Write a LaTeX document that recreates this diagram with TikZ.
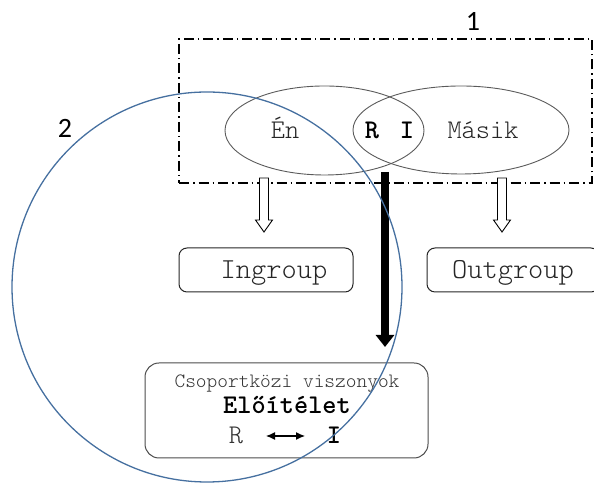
\documentclass[tikz,border=0pt]{standalone}
\usepackage{fontspec}
\newfontfamily\lab{Carlito}
\newfontfamily\mono{lmmonolt10-regular.otf}[BoldFont=lmmonolt10-bold.otf]
\usetikzlibrary{shapes.geometric,arrows.meta}
\definecolor{circblue}{RGB}{70,112,160}
\definecolor{ellgray}{RGB}{90,90,90}
\tikzset{
  x=1pt,y=1pt,
  ell/.style={draw=ellgray,line width=0.9pt,ellipse,inner sep=0pt},
  grpbox/.style={draw=black!85,line width=1pt,rounded corners=8pt,inner sep=0pt},
  monotext/.style={font=\mono\fontsize{27}{30}\selectfont,inner sep=0pt,anchor=base,text=black!85},
  boldtext/.style={monotext,font=\mono\bfseries\fontsize{27}{30}\selectfont,text=black},
  numlab/.style={font=\lab\fontsize{28}{32}\selectfont,inner sep=0pt},
  hollow/.style={draw=black,line width=0.9pt,fill=white},
  frame/.style={draw=black,line width=1.8pt,dash pattern=on 10pt off 4pt on 1.5pt off 4pt}
}
\begin{document}
\begin{tikzpicture}
\useasboundingbox (0,0) rectangle (594,494);
% dash-dot frame
\node[frame,minimum width=413pt,minimum height=144pt,inner sep=0pt] (frame) at (385.5,383) {};
\node[numlab] (one) at (473,472) {1};
% ellipses
\node[ell,minimum width=199pt,minimum height=89pt] (en) at (324.5,363.5) {};
\node[ell,minimum width=216pt,minimum height=88pt] (masik) at (461,364) {};
\node[monotext] (entext) at (285,355) {Én};
\node[boldtext] (R) at (372,355) {R};
\node[boldtext] (I) at (407,355) {I};
\node[monotext] (masiktext) at (483,355) {Másik};
% group boxes
\node[grpbox,minimum width=174pt,minimum height=44pt] (ingroup) at (266,224) {};
\node[monotext,font=\mono\fontsize{29}{32}\selectfont] (ingrouptext) at (274,215) {Ingroup};
\node[grpbox,minimum width=172pt,minimum height=44pt] (outgroup) at (513,224) {};
\node[monotext,font=\mono\fontsize{29}{32}\selectfont] (outgrouptext) at (513,215) {Outgroup};
% bottom box
\node[grpbox,draw=black!70,minimum width=283pt,minimum height=95pt,rounded corners=14pt] (rel) at (286.5,83.5) {};
\node[monotext,font=\mono\fontsize{20.4}{22}\selectfont,text=black!80] (csop) at (287,106) {Csoportközi viszonyok};
\node[boldtext] (elo) at (287,80) {Előítélet};
\node[monotext,text=black!80] (r2) at (236,50) {R};
\node[boldtext] (i2) at (334,50) {I};
\coordinate (al) at (266,58);
\coordinate (ar) at (305,58);
\draw[line width=1.2pt,{Latex[length=9pt,width=8pt]}-{Latex[length=9pt,width=8pt]}] (al) -- (ar);
% hollow arrows
\foreach \xx/\nm in {264/ingroup,502/outgroup}{
  \draw[hollow] (\xx-4.5,316) -- (\xx+4.5,316) -- (\xx+4.5,274) -- (\xx+8.5,274) -- (\xx,262) -- (\xx-8.5,274) -- (\xx-4.5,274) -- cycle;
}
% thick arrow
\coordinate (thickstart) at (385,322);
\coordinate (thickend) at (385,147);
\draw[line width=8pt,-{Triangle[length=12pt,width=18pt]}] (thickstart) -- (thickend);
% blue circle
\node[draw=circblue,line width=1.3pt,circle,minimum size=390pt,inner sep=0pt] (circ) at (207,207) {};
\node[numlab] (two) at (65,366) {2};
\end{tikzpicture}
\end{document}
